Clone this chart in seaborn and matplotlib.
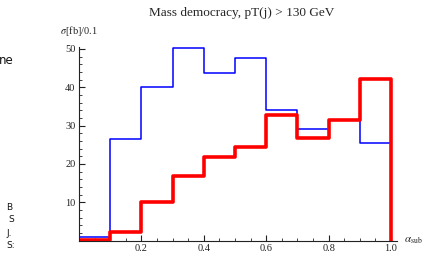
import matplotlib
matplotlib.use("Agg")
import matplotlib.pyplot as plt
import numpy as np
import pandas as pd
import seaborn as sns
from matplotlib.ticker import MultipleLocator, FixedLocator

# bin edges in alpha_sub and cross sections per bin (sigma [fb]/0.1)
edges = [0.0, 0.1, 0.2, 0.3, 0.4, 0.5, 0.6, 0.7, 0.8, 0.9, 1.0]
blue_vals = [0.9, 26.5, 40.0, 50.3, 43.6, 47.7, 34.1, 29.0, 31.5, 25.6]
red_vals = [0.3, 2.35, 10.2, 16.9, 21.8, 24.5, 32.9, 26.7, 31.4, 42.2]
x_ticks = [0.2, 0.4, 0.6, 0.8, 1.0]
y_ticks = [10, 20, 30, 40, 50]
title = "Mass democracy, pT(j) > 130 GeV"


def step_frame(vals, name):
    # steps-post: one point per left edge, last value held to the right edge, then drop to 0
    xs = list(edges) + [edges[-1]]
    ys = list(vals) + [vals[-1], 0.0]
    return pd.DataFrame({"alpha": xs, "sigma": ys, "sample": name})


sns.set_theme(style="ticks")
plt.rcParams["font.family"] = ["Liberation Serif", "DejaVu Serif"]
plt.rcParams["mathtext.fontset"] = "stix"

fig = plt.figure(figsize=(4.25, 2.56), dpi=100)
ax = fig.add_axes([0.1859, 0.0598, 0.7473, 0.758])

df = pd.concat([step_frame(blue_vals, "blue"), step_frame(red_vals, "red")], ignore_index=True)
sns.lineplot(data=df[df["sample"] == "blue"], x="alpha", y="sigma", color="#0000ff",
             linewidth=1.1, drawstyle="steps-post", estimator=None, sort=False, ax=ax)
sns.lineplot(data=df[df["sample"] == "red"], x="alpha", y="sigma", color="#ff0000",
             linewidth=2.6, drawstyle="steps-post", estimator=None, sort=False, ax=ax)

ax.set_xlim(0, 1.018)
ax.set_ylim(0, 50.6)
ax.xaxis.set_major_locator(FixedLocator(x_ticks))
ax.yaxis.set_major_locator(FixedLocator(y_ticks))
ax.xaxis.set_minor_locator(MultipleLocator(0.05))
ax.yaxis.set_minor_locator(MultipleLocator(2))
ax.set_xticklabels([f"{t:.1f}" for t in x_ticks])
ax.set_yticklabels([str(t) for t in y_ticks])
ax.tick_params(which="major", direction="in", length=4, width=0.8, labelsize=7.5,
               pad=2.5, colors="#222222")
ax.tick_params(which="minor", direction="in", length=2, width=0.6, colors="#222222")
ax.set_xlabel("")
ax.set_ylabel("")
sns.despine(ax=ax)
for s in ["left", "bottom"]:
    ax.spines[s].set_linewidth(0.8)
    ax.spines[s].set_color("#222222")

fig.text(242 / 425, 1 - 13 / 256, title, ha="center", va="center", fontsize=9.5)
fig.text(79 / 425, 1 - 31 / 256, r"$\sigma$[fb]/0.1", ha="center", va="center", fontsize=7.5)
fig.text(423 / 425, 1 - 241 / 256, r"$\alpha_{\rm sub}$", ha="right", va="center", fontsize=8)

# clipped fragments at the left edge
frag = dict(family=["DejaVu Sans"], color="#111111")
fig.text(-1 / 425, 1 - 60 / 256, "ne", ha="left", va="center", fontsize=8.5, **frag)
fig.text(6 / 425, 1 - 208 / 256, "B", ha="left", va="center", fontsize=6.5, **frag)
fig.text(8 / 425, 1 - 220 / 256, "S", ha="left", va="center", fontsize=6.5, **frag)
fig.text(6 / 425, 1 - 233 / 256, "J.", ha="left", va="center", fontsize=6.5, **frag)
fig.text(6 / 425, 1 - 245 / 256, "S:", ha="left", va="center", fontsize=6.5, **frag)

fig.savefig("out.png", dpi=100)
